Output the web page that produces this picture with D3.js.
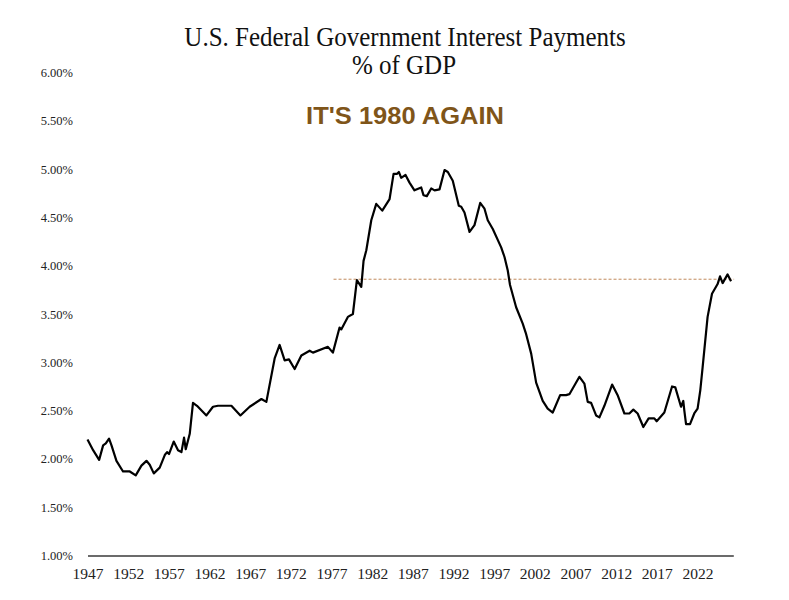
<!DOCTYPE html>
<html lang="en">
<head>
    <meta charset="utf-8">
    <title>U.S. Federal Government Interest Payments</title>
    <script src="https://d3js.org/d3.v7.min.js"></script>
    <style>
        body {
            margin: 0;
            background: #fff;
        }
        .serif {
            font-family: "Liberation Serif", "Times New Roman", serif;
        }
        .callout {
            font-family: "Liberation Sans", Arial, sans-serif;
            font-weight: bold;
        }
    </style>
</head>
<body>
<svg id="chart"></svg>

<script>
    // quarterly-ish readings of interest payments as % of GDP
    const years = [
        1947.00, 1947.69, 1948.43, 1948.92, 1949.25, 1949.65, 1949.95, 1950.56, 1951.37, 1952.20,
        1952.93, 1953.63, 1954.25, 1954.65, 1955.15, 1955.88, 1956.50, 1956.78, 1957.02, 1957.60,
        1958.13, 1958.55, 1958.87, 1959.08, 1959.57, 1959.97, 1960.46, 1961.62, 1962.43, 1963.04,
        1964.69, 1965.80, 1966.94, 1968.38, 1968.99, 1970.01, 1970.62, 1971.24, 1971.77, 1972.47,
        1973.29, 1974.31, 1974.72, 1976.56, 1977.17, 1977.99, 1978.20, 1979.01, 1979.63, 1980.12,
        1980.66, 1980.94, 1981.28, 1981.89, 1982.50, 1983.24, 1984.14, 1984.63, 1985.03, 1985.28,
        1985.57, 1986.10, 1986.59, 1987.20, 1988.03, 1988.31, 1988.72, 1989.26, 1989.67, 1990.28,
        1990.90, 1991.30, 1991.91, 1992.65, 1992.95, 1993.35, 1993.97, 1994.58, 1995.28, 1995.81,
        1996.21, 1996.83, 1997.86, 1998.27, 1998.67, 1998.95, 1999.70, 2000.51, 2000.90, 2001.55,
        2002.16, 2002.97, 2003.58, 2004.20, 2005.11, 2005.84, 2006.25, 2007.48, 2008.09, 2008.50,
        2008.92, 2009.53, 2009.94, 2010.55, 2011.50, 2012.18, 2013.01, 2013.62, 2014.11, 2014.64,
        2015.34, 2015.99, 2016.69, 2016.98, 2017.92, 2018.87, 2019.27, 2019.97, 2020.25, 2020.38,
        2020.59, 2021.08, 2021.60, 2022.01, 2022.34, 2022.63, 2023.24, 2023.78, 2024.47, 2024.77,
        2025.09, 2025.70, 2026.12
    ];
    const interestPct = [
        2.20, 2.09, 1.99, 2.14, 2.16, 2.21, 2.14, 1.98, 1.87, 1.87,
        1.83, 1.93, 1.98, 1.94, 1.85, 1.91, 2.04, 2.07, 2.05, 2.18,
        2.09, 2.07, 2.22, 2.10, 2.26, 2.58, 2.55, 2.45, 2.54, 2.55,
        2.55, 2.45, 2.54, 2.62, 2.59, 3.04, 3.18, 3.02, 3.03, 2.93,
        3.07, 3.12, 3.10, 3.16, 3.10, 3.36, 3.34, 3.47, 3.50, 3.85,
        3.78, 4.05, 4.16, 4.47, 4.64, 4.57, 4.69, 4.95, 4.95, 4.97,
        4.91, 4.94, 4.86, 4.78, 4.81, 4.73, 4.72, 4.80, 4.78, 4.79,
        4.99, 4.97, 4.88, 4.62, 4.61, 4.55, 4.35, 4.42, 4.65, 4.59,
        4.47, 4.38, 4.19, 4.09, 3.95, 3.80, 3.57, 3.40, 3.30, 3.09,
        2.79, 2.60, 2.52, 2.48, 2.66, 2.66, 2.67, 2.85, 2.78, 2.59,
        2.58, 2.45, 2.43, 2.55, 2.77, 2.66, 2.47, 2.47, 2.51, 2.47,
        2.33, 2.42, 2.42, 2.39, 2.48, 2.75, 2.74, 2.54, 2.60, 2.50,
        2.36, 2.36, 2.47, 2.52, 2.71, 2.95, 3.47, 3.71, 3.81, 3.89,
        3.82, 3.91, 3.84
    ];

    // tick labels
    const yearTicks = [1947, 1952, 1957, 1962, 1967, 1972, 1977, 1982, 1987, 1992, 1997, 2002, 2007, 2012, 2017, 2022];
    const pctTicks = [1.0, 1.5, 2.0, 2.5, 3.0, 3.5, 4.0, 4.5, 5.0, 5.5, 6.0];

    // the 1980 reference level and where its dashed line runs
    const refLevel = 3.86;
    const refFrom = 1977.25;
    const refTo = 2026.5;

    const width = 789, height = 600;
    const svg = d3.select("#chart")
        .attr("width", width)
        .attr("height", height);

    const x = d3.scaleLinear().domain([1947, 2026.4]).range([87.5, 733.3]);
    const y = d3.scaleLinear().domain([1, 6]).range([555.5, 72.5]);

    const data = years.map((yr, i) => ({year: yr, value: interestPct[i]}));

    // titles (the source image is slightly stretched, hence the scale)
    svg.append("text").attr("class", "serif")
        .attr("transform", "translate(405,46) scale(1,1.1)")
        .attr("text-anchor", "middle")
        .style("font-size", "25px")
        .style("fill", "#111")
        .text("U.S. Federal Government Interest Payments");
    svg.append("text").attr("class", "serif")
        .attr("transform", "translate(404,73.5) scale(1,1.1)")
        .attr("text-anchor", "middle")
        .style("font-size", "25px")
        .style("fill", "#111")
        .text("% of GDP");
    svg.append("text").attr("class", "callout")
        .attr("transform", "translate(405,124) scale(1,0.92)")
        .attr("text-anchor", "middle")
        .style("font-size", "25.5px")
        .style("fill", "#7f5519")
        .text("IT'S 1980 AGAIN");

    // y axis labels only
    const yAxis = svg.append("g")
        .attr("transform", "translate(73,0)")
        .call(d3.axisLeft(y).tickValues(pctTicks).tickSize(0).tickPadding(0)
            .tickFormat(d => d3.format(".2f")(d) + "%"));
    yAxis.select(".domain").remove();
    yAxis.selectAll("text")
        .attr("class", "serif")
        .style("font-size", "12.5px")
        .style("fill", "#222");

    // x axis with its baseline
    const xAxis = svg.append("g")
        .attr("transform", `translate(0,${y(1)})`)
        .call(d3.axisBottom(x).tickValues(yearTicks).tickSize(0).tickSizeOuter(0).tickPadding(12)
            .tickFormat(d3.format("d")));
    xAxis.select(".domain")
        .attr("stroke", "#3a3a3a")
        .attr("stroke-width", 1.6);
    xAxis.selectAll("text")
        .attr("class", "serif")
        .style("font-size", "15.5px")
        .style("fill", "#222");

    // dashed reference line
    svg.append("line")
        .attr("x1", x(refFrom)).attr("x2", x(refTo))
        .attr("y1", y(refLevel)).attr("y2", y(refLevel))
        .attr("stroke", "#c08a5c")
        .attr("stroke-width", 1)
        .attr("stroke-dasharray", "3,2");

    // the series
    const line = d3.line()
        .x(d => x(d.year))
        .y(d => y(d.value))
        .curve(d3.curveLinear);

    svg.append("path")
        .datum(data)
        .attr("fill", "none")
        .attr("stroke", "#000")
        .attr("stroke-width", 2.2)
        .attr("stroke-linejoin", "round")
        .attr("d", line);
</script>
</body>
</html>
